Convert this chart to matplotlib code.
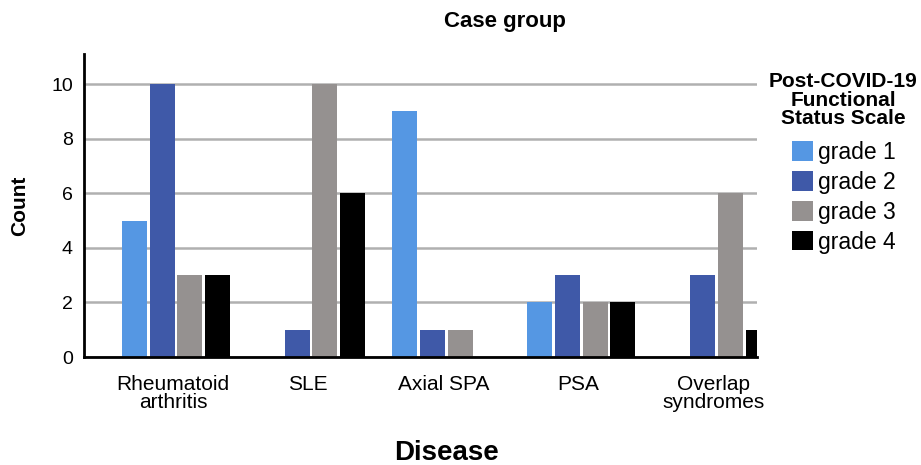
import matplotlib.pyplot as plt
import numpy as np

diseases = ['Rheumatoid\narthritis', 'SLE', 'Axial SPA', 'PSA', 'Overlap\nsyndromes']
grades = ['grade 1', 'grade 2', 'grade 3', 'grade 4']
grade1 = [5, 0, 9, 2, 0]
grade2 = [10, 1, 1, 3, 3]
grade3 = [3, 10, 1, 2, 6]
grade4 = [3, 6, 0, 2, 1]
colors = ['#5597e3', '#3f59a8', '#959190', '#000000']

plt.rcParams['font.family'] = ['Liberation Sans', 'DejaVu Sans']

fig = plt.figure(figsize=(9.21, 4.65), dpi=100)
ax = fig.add_axes([84/921, 1-357/465, (757-84)/921, (357-54)/465])

x = np.arange(len(diseases))
step = 0.205
width = 0.185
for i, (vals, lab) in enumerate(zip([grade1, grade2, grade3, grade4], grades)):
    ax.bar(x + (i - 1.5)*step, vals, width, color=colors[i], label=lab, zorder=3)

ax.set_xlim(-0.68, 4.3)
ax.set_ylim(0, 11.1)
ax.set_yticks([0, 2, 4, 6, 8, 10])
ax.yaxis.grid(True, color='#b0b0b0', linewidth=1.8, zorder=0)
ax.set_axisbelow(True)
ax.set_xticks(x - 0.02)
ax.set_xticklabels(diseases, fontsize=15, linespacing=0.95)
ax.tick_params(axis='y', length=0, labelsize=14, pad=8)
ax.tick_params(axis='x', length=0, pad=13)
for s in ['top', 'right']:
    ax.spines[s].set_visible(False)
for s in ['left', 'bottom']:
    ax.spines[s].set_linewidth(2)
ax.spines['bottom'].set_zorder(4)

ax.set_ylabel('Count', fontsize=15, fontweight='bold')
ax.yaxis.set_label_coords(-0.082, 0.5)
fig.text(446/921, 1-453/465, 'Disease', fontsize=20, fontweight='bold', ha='center', va='center')
fig.text(505/921, 1-22/465, 'Case group', fontsize=16, fontweight='bold', ha='center', va='center')

# legend title drawn as its own text so it can be centred over the entries
fig.text(843/921, 1-100/465, 'Post-COVID-19\nFunctional\nStatus Scale', fontsize=15,
         fontweight='bold', ha='center', va='center', multialignment='center', linespacing=0.98)
leg = ax.legend(loc='upper left', bbox_to_anchor=(792/921, 1-141/465), bbox_transform=fig.transFigure,
                frameon=False, fontsize=16.5, borderpad=0, borderaxespad=0,
                handlelength=0.92, handleheight=0.92, handletextpad=0.22, labelspacing=0.3)

plt.savefig('out.png', dpi=100)
